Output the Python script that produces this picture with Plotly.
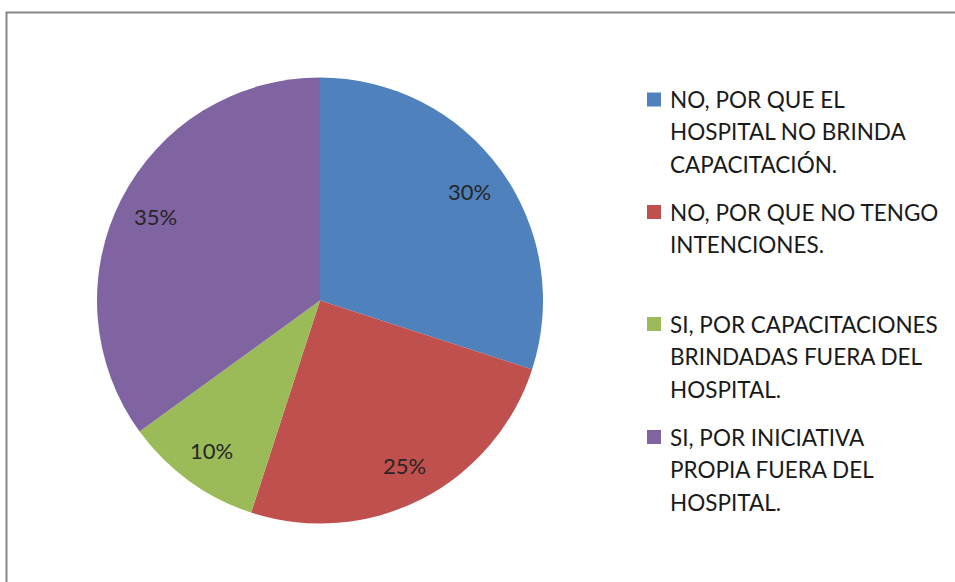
import math
import plotly.graph_objects as go

labels = [
    "NO, POR QUE EL<br>HOSPITAL NO BRINDA<br>CAPACITACIÓN.",
    "NO, POR QUE NO TENGO<br>INTENCIONES.",
    "SI, POR CAPACITACIONES<br>BRINDADAS FUERA DEL<br>HOSPITAL.",
    "SI, POR INICIATIVA<br>PROPIA FUERA DEL<br>HOSPITAL.",
]
values = [30, 25, 10, 35]
colors = ["#4F81BD", "#C0504D", "#9BBB59", "#8064A2"]

W, H = 955, 582
FONT = "Lato"
CX, CY, R = 320, 300.5, 223

fig = go.Figure()
fig.add_trace(go.Pie(
    labels=labels, values=values, sort=False, direction="clockwise", rotation=0,
    marker=dict(colors=colors, line=dict(width=0)),
    textinfo="none",
    domain=dict(x=[(CX - R) / W, (CX + R) / W], y=[1 - (CY + R) / H, 1 - (CY - R) / H]),
    showlegend=False, hoverinfo="label+percent",
))

annotations = []
# Data labels placed along each slice's mid-angle, near the rim (as in the reference)
total = sum(values)
cum = 0
for v in values:
    mid = (cum + v / 2) / total * 2 * math.pi
    cum += v
    px = CX + 0.83 * R * math.sin(mid)
    py = CY - 0.83 * R * math.cos(mid)
    annotations.append(dict(
        xref="paper", yref="paper", x=px / W, y=1 - py / H,
        xanchor="center", yanchor="middle", showarrow=False,
        text=f"{round(100 * v / total)}%",
        font=dict(family=FONT, size=22, color="#262626")))

# Custom legend (to reproduce the reference's item spacing)
item_tops = [99.5, 212, 324, 437]
line_gap = 32.5
shapes = [dict(type="rect", xref="paper", yref="paper",
               x0=6.5 / W, x1=1.02, y0=-0.02, y1=1 - 12.5 / H,
               line=dict(color="#878787", width=2), fillcolor="rgba(0,0,0,0)")]
for lab, col, y0 in zip(labels, colors, item_tops):
    shapes.append(dict(type="rect", xref="paper", yref="paper",
                       x0=647 / W, x1=661 / W, y0=1 - (y0 + 7) / H, y1=1 - (y0 - 7) / H,
                       line=dict(width=0), fillcolor=col))
    for i, line in enumerate(lab.split("<br>")):
        annotations.append(dict(
            xref="paper", yref="paper", x=668 / W, y=1 - (y0 + i * line_gap) / H,
            xanchor="left", yanchor="middle", showarrow=False, text=line,
            font=dict(family=FONT, size=22.5, color="#1a1a1a")))

fig.update_layout(
    width=W, height=H, margin=dict(l=0, r=0, t=0, b=0),
    paper_bgcolor="white", plot_bgcolor="white",
    shapes=shapes, annotations=annotations,
)
fig.write_html("out.html", config={"displayModeBar": False})

# remove the browser's default body margin so the figure sits at (0, 0)
with open("out.html", "r", encoding="utf-8") as f:
    html = f.read()
html = html.replace("<body>", '<body style="margin:0;overflow:hidden">', 1)
with open("out.html", "w", encoding="utf-8") as f:
    f.write(html)
